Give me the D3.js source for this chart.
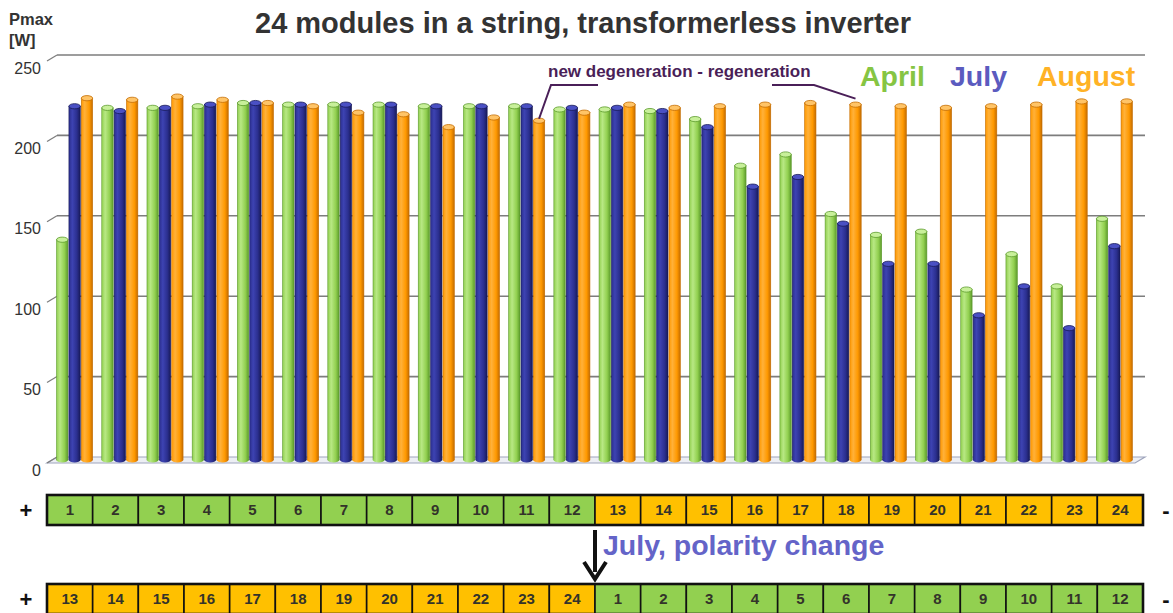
<!DOCTYPE html>
<html>
<head>
<meta charset="utf-8">
<script src="https://cdn.jsdelivr.net/npm/d3@7/dist/d3.min.js"></script>
<style>
  html, body { margin: 0; padding: 0; background: #fff; }
  svg { display: block; font-family: "Liberation Sans", Arial, sans-serif; }
</style>
</head>
<body>
<svg id="chart" width="1173" height="613"></svg>
<script>
// Module numbers along the string
const modules = d3.range(1, 25);
// Pmax per module [W]
const april  = [137,219,219,220,222,221,221,221,220,220,220,218,218,217,212,183,190,153,140,142,106,128,108,150];
const july   = [220,217,219,221,222,221,221,221,220,220,220,219,219,217,207,170,176,147,122,122, 90,108, 82,133];
const august = [225,224,226,224,222,220,216,215,207,213,211,216,221,219,220,221,222,221,220,219,220,221,223,223];
const seriesNames = ["April", "July", "August"];
const yTicks = [0, 50, 100, 150, 200, 250];
// String order before and after the polarity change
const stringBefore = d3.range(1, 25);
const stringAfter = d3.range(13, 25).concat(d3.range(1, 13));

const svg = d3.select("#chart");

const series = [
  { name: seriesNames[0], values: april,  base: "#92d050", light: "#b8e884", dark: "#5c9a2c", top: "#c8f09a", text: "#86c543" },
  { name: seriesNames[1], values: july,   base: "#2b2f8f", light: "#3d43b2", dark: "#181a58", top: "#4a50c4", text: "#5b5bbf" },
  { name: seriesNames[2], values: august, base: "#ff9900", light: "#ffb13a", dark: "#c46c00", top: "#ffc467", text: "#ffb226" }
];

// depth offset of the 3D back wall
const depthX = 10, depthY = 6;

const y = d3.scaleLinear().domain([0, 250]).range([457, 55]);
const x0 = d3.scaleBand().domain(modules).range([52, 1137]).paddingInner(0.18).paddingOuter(0.09);
const x1 = d3.scaleBand().domain(seriesNames).range([0, x0.bandwidth()]).padding(0.0);

const defs = svg.append("defs");
series.forEach((s, i) => {
  const g = defs.append("linearGradient").attr("id", "cyl" + i)
    .attr("x1", "0%").attr("x2", "100%").attr("y1", "0%").attr("y2", "0%");
  g.append("stop").attr("offset", "0%").attr("stop-color", s.base);
  g.append("stop").attr("offset", "30%").attr("stop-color", s.light);
  g.append("stop").attr("offset", "70%").attr("stop-color", s.base);
  g.append("stop").attr("offset", "100%").attr("stop-color", s.dark);
});

// Title
svg.append("text").attr("x", 583).attr("y", 33).attr("text-anchor", "middle")
  .attr("font-size", 29).attr("font-weight", "bold").attr("fill", "#333")
  .text("24 modules in a string, transformerless inverter");

// Axis title
svg.append("text").attr("x", 9).attr("y", 25).attr("font-size", 16.5).attr("font-weight", "bold").attr("fill", "#333").text("Pmax");
svg.append("text").attr("x", 9).attr("y", 46).attr("font-size", 16.5).attr("font-weight", "bold").attr("fill", "#333").text("[W]");

// Floor
const xL = 57, xR = 1145;
svg.append("path")
  .attr("d", `M${xL},${y(0)} L${xR},${y(0)} L${xR - depthX},${y(0) + depthY} L${xL - depthX},${y(0) + depthY} Z`)
  .attr("fill", "#eceef4").attr("stroke", "#9ea4bc").attr("stroke-width", 1.2);

// Gridlines on the back wall, with slanted ticks toward the labels
const grid = svg.append("g");
yTicks.filter(t => t > 0).forEach(t => {
  grid.append("line").attr("x1", xL).attr("x2", xR).attr("y1", y(t)).attr("y2", y(t))
    .attr("stroke", "#7d7d7d").attr("stroke-width", 1.6);
});
yTicks.forEach(t => {
  grid.append("line").attr("x1", xL).attr("x2", xL - depthX).attr("y1", y(t)).attr("y2", y(t) + depthY)
    .attr("stroke", "#7d7d7d").attr("stroke-width", 1.2);
  grid.append("text").attr("x", 41).attr("y", y(t) + 13).attr("dy", "0.35em")
    .attr("text-anchor", "end").attr("font-size", 16).attr("fill", "#333").text(t);
});

// Cylindrical bars
const shift = 3;
const ry = 2.6;
const groups = svg.append("g").selectAll("g").data(modules).join("g")
  .attr("transform", d => `translate(${x0(d)},0)`);
series.forEach((s, i) => {
  groups.each(function(d, k) {
    const v = s.values[k];
    const bx = x1(s.name), bw = x1.bandwidth();
    const top = y(v) + shift, bottom = y(0) + shift;
    const g = d3.select(this);
    g.append("rect").attr("x", bx + 0.5).attr("y", top).attr("width", bw - 1).attr("height", bottom - top)
      .attr("fill", `url(#cyl${i})`).attr("stroke", s.dark).attr("stroke-width", 0.6);
    g.append("ellipse").attr("cx", bx + bw / 2).attr("cy", bottom).attr("rx", bw / 2 - 0.5).attr("ry", ry)
      .attr("fill", `url(#cyl${i})`);
    g.append("ellipse").attr("cx", bx + bw / 2).attr("cy", top).attr("rx", bw / 2 - 0.5).attr("ry", ry)
      .attr("fill", s.top).attr("stroke", s.dark).attr("stroke-width", 0.8);
  });
});

// Annotation
const annColor = "#4a1f58";
svg.append("text").attr("x", 548).attr("y", 77).attr("font-size", 17).attr("font-weight", "bold")
  .attr("fill", annColor).text("new degeneration - regeneration");
const leftTip = [x0(11) + x1("August") + x1.bandwidth() / 2, y(august[10]) + shift - 2];
const rightTip = [x0(18) + x1("August") + x1.bandwidth() / 2, y(august[17]) + shift - 6];
svg.append("path").attr("d", `M598,85 L551,85 L${leftTip[0]},${leftTip[1]}`)
  .attr("fill", "none").attr("stroke", annColor).attr("stroke-width", 2);
svg.append("path").attr("d", `M772,85 L814,85 L${rightTip[0]},${rightTip[1]}`)
  .attr("fill", "none").attr("stroke", annColor).attr("stroke-width", 2);

// Legend
const legendX = [860, 950, 1037];
series.forEach((s, i) => {
  svg.append("text").attr("x", legendX[i]).attr("y", 86).attr("font-size", 28.5).attr("font-weight", "bold")
    .attr("fill", s.text).text(s.name);
});

// String layout rows
const cell = d3.scaleBand().domain(d3.range(24)).range([47, 1143]);
function stringRow(order, top, h) {
  const g = svg.append("g");
  g.selectAll("rect").data(order).join("rect")
    .attr("x", (d, i) => cell(i)).attr("y", top).attr("width", cell.bandwidth()).attr("height", h)
    .attr("fill", d => d <= 12 ? "#92d050" : "#ffc000")
    .attr("stroke", "#111").attr("stroke-width", 1.6);
  g.append("rect").attr("x", 47).attr("y", top).attr("width", 1143 - 47).attr("height", h)
    .attr("fill", "none").attr("stroke", "#111").attr("stroke-width", 2.6);
  g.selectAll("text").data(order).join("text")
    .attr("x", (d, i) => cell(i) + cell.bandwidth() / 2).attr("y", top + h / 2).attr("dy", "0.36em")
    .attr("text-anchor", "middle").attr("font-size", 15).attr("font-weight", "bold").attr("fill", "#33332a")
    .text(d => d);
  g.append("text").attr("x", 26).attr("y", top + h / 2).attr("dy", "0.36em").attr("text-anchor", "middle")
    .attr("font-size", 22).attr("font-weight", "bold").attr("fill", "#111").text("+");
  g.append("text").attr("x", 1166).attr("y", top + h / 2).attr("dy", "0.36em").attr("text-anchor", "middle")
    .attr("font-size", 22).attr("font-weight", "bold").attr("fill", "#111").text("-");
}
stringRow(stringBefore, 495, 30);
stringRow(stringAfter, 584, 30);

// Polarity change arrow
const ax = cell(12);
svg.append("line").attr("x1", ax).attr("x2", ax).attr("y1", 530).attr("y2", 572)
  .attr("stroke", "#111").attr("stroke-width", 4);
svg.append("path").attr("d", `M${ax - 11},${562} L${ax},${579} L${ax + 11},${562}`)
  .attr("fill", "none").attr("stroke", "#111").attr("stroke-width", 4).attr("stroke-linejoin", "miter");
svg.append("text").attr("x", 603).attr("y", 555).attr("font-size", 28.5).attr("font-weight", "bold")
  .attr("fill", "#6464c8").text("July, polarity change");
</script>
</body>
</html>
